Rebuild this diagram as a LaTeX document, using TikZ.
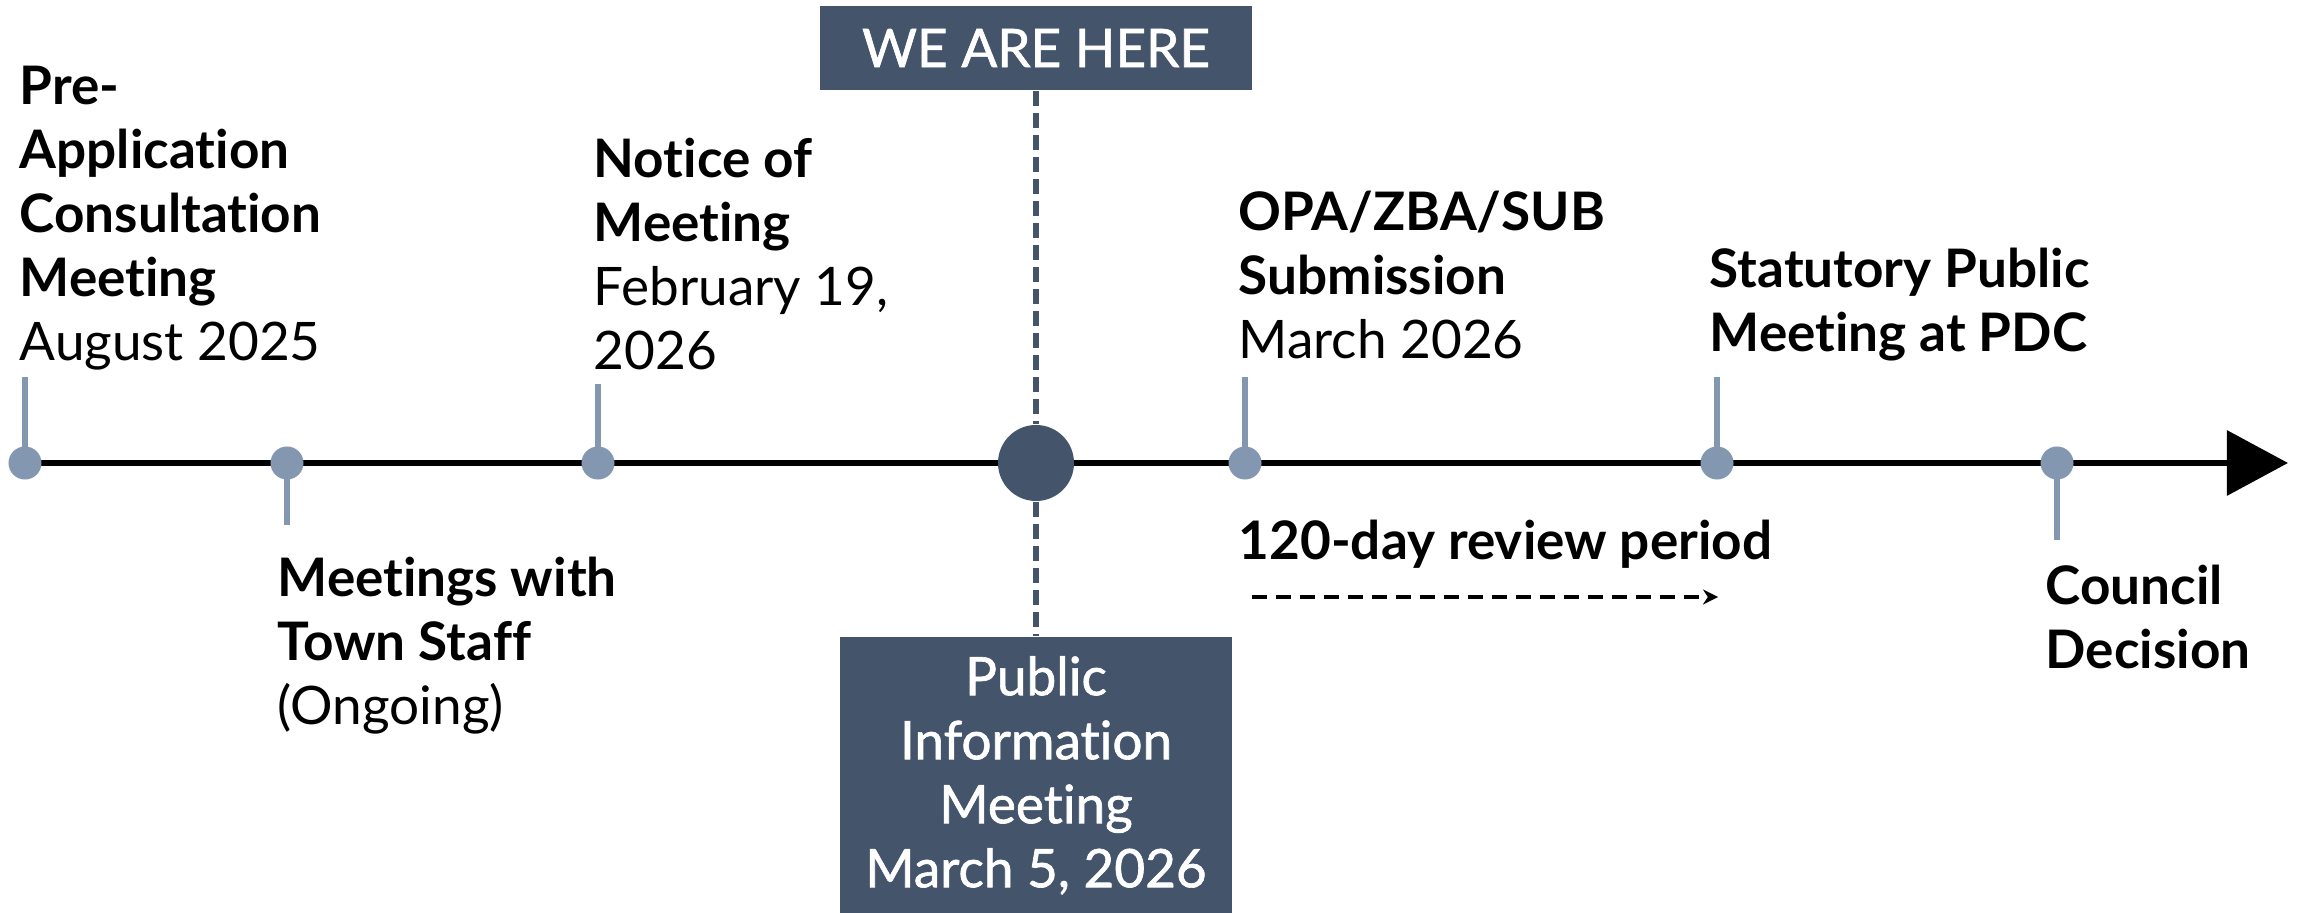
\documentclass[tikz,border=0pt]{standalone}
\usepackage{fontspec}
\setmainfont[Ligatures=NoCommon]{Lato}
\newfontfamily\medfont[Ligatures=NoCommon,FakeBold=1.2]{Lato}
\usetikzlibrary{arrows.meta,backgrounds}
\definecolor{slate}{HTML}{44546A}
\definecolor{steel}{HTML}{8497B0}

\begin{document}
\begin{tikzpicture}[x=0.01cm,y=-0.01cm,
	dot/.style={shape=circle,fill=steel,minimum size=0.33cm,inner sep=0pt},
	stem/.style={draw=steel,line width=1.9pt},
	lbl/.style={anchor=base west,align=left,inner sep=0pt,font=\fontsize{15.1}{18.2}\selectfont},
	banner/.style={fill=slate,text=white,inner sep=0pt,align=center,font=\fontsize{15.1}{18.2}\selectfont\medfont}]
	\useasboundingbox (0,0) rectangle (2297,913);

	\node[dot] (1) at (25,463) {};
	\node[dot] (2) at (287,463) {};
	\node[dot] (3) at (598,463) {};
	\node[shape=circle,fill=slate,minimum size=0.76cm,inner sep=0pt] (4) at (1036,463) {};
	\node[dot] (5) at (1245,463) {};
	\node[dot] (6) at (1717,463) {};
	\node[dot] (7) at (2057,463) {};

	\coordinate (1t) at (25,377);
	\coordinate (2b) at (287,525);
	\coordinate (3t) at (598,384);
	\coordinate (5t) at (1245,377);
	\coordinate (6t) at (1717,377);
	\coordinate (7b) at (2057,540);
	\coordinate (end) at (2288,463);
	\coordinate (r1) at (1252,597);
	\coordinate (r2) at (1718,597);

	\node[banner,minimum width=4.32cm,minimum height=0.84cm] (here) at (1036,48) {WE ARE HERE};
	\node[banner,anchor=north,minimum width=3.92cm,minimum height=2.77cm] (pim) at (1036,636)
		{Public\\Information\\Meeting\\March 5, 2026};

	% base anchor sits on the last line
	\node[lbl] (t1) at (19,361) {\textbf{Pre-}\\\textbf{Application}\\\textbf{Consultation}\\\textbf{Meeting}\\August 2025};
	\node[lbl] (t2) at (277,725) {\textbf{Meetings with}\\\textbf{Town Staff}\\(Ongoing)};
	\node[lbl] (t3) at (593,370) {\textbf{Notice of}\\\textbf{Meeting}\\February 19,\\2026};
	\node[lbl] (t5) at (1238,359) {\textbf{OPA/ZBA/SUB}\\\textbf{Submission}\\March 2026};
	\node[lbl] (t6) at (1709,352) {\textbf{Statutory Public}\\\textbf{Meeting at PDC}};
	\node[lbl] (t7) at (2045,669) {\textbf{Council}\\\textbf{Decision}};
	\node[lbl] (rev) at (1238,560) {\textbf{120-day review period}};

	\begin{pgfonlayer}{background}
		\draw[line width=1.8pt,-{Triangle[length=0.61cm,width=0.64cm]}] (1.center) -- (end);
		\path[stem]
		(1.center) edge (1t)
		(2.center) edge (2b)
		(3.center) edge (3t)
		(5.center) edge (5t)
		(6.center) edge (6t)
		(7.center) edge (7b);
	\end{pgfonlayer}

	\path[draw=slate,line width=1.6pt,dash pattern=on 0.15cm off 0.07cm]
	(here) edge (4)
	(4) edge (pim);

	\draw[line width=1pt,dash pattern=on 0.15cm off 0.09cm,-{Stealth[length=0.15cm,width=0.15cm]}] (r1) -- (r2);
\end{tikzpicture}
\end{document}
